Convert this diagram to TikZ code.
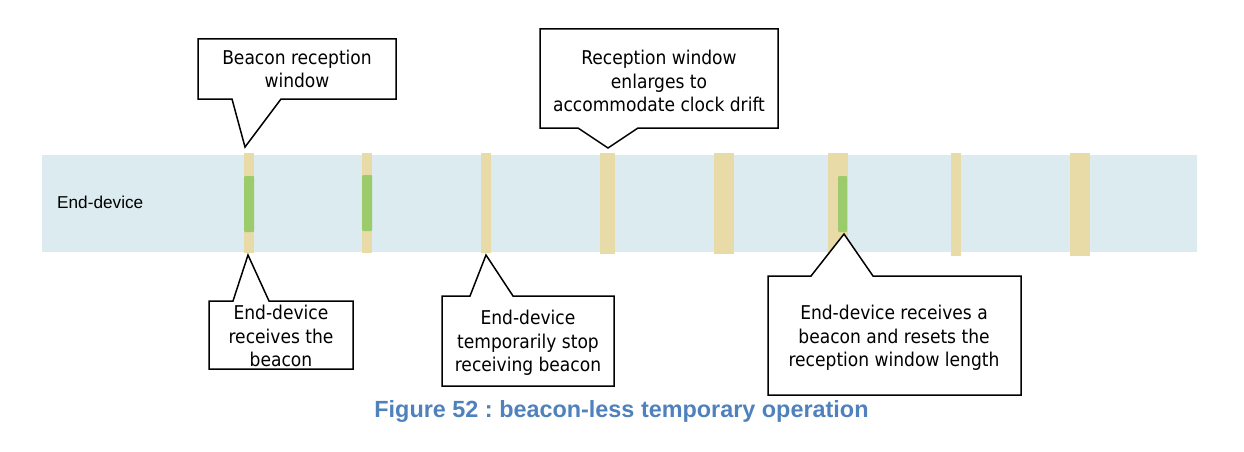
\documentclass[tikz,border=0pt]{standalone}
\usepackage{fontspec}
\setmainfont{DejaVu Sans Condensed}
\newfontfamily\arialfont{Liberation Sans}
\definecolor{bandblue}{HTML}{DCEBEF}
\definecolor{wintan}{HTML}{E8DBA8}
\definecolor{beacongreen}{HTML}{9BCB6A}
\definecolor{captionblue}{HTML}{4F81BD}
\frenchspacing
\tikzset{
  band/.style={fill=bandblue, draw=none},
  win/.style={fill=wintan, draw=none},
  beacon/.style={fill=beacongreen, draw=none, rounded corners=1pt},
  calloutline/.style={draw=black, fill=white, line width=1.5pt, line join=miter},
  callouttext/.style={inner sep=0pt, align=center, font=\fontsize{19}{23.3}\selectfont},
}
\begin{document}
\begin{tikzpicture}[x=1pt,y=-1pt]
\useasboundingbox (0,0) rectangle (1244,452);
% band
\fill[band] (42,155) rectangle (1197,252);
\node[anchor=west, inner sep=0pt, font=\arialfont\fontsize{17.2}{20}\selectfont] (ed) at (57,202) {End-device};
% reception windows
\fill[win] (244,153) rectangle (254,253);
\fill[win] (362,153) rectangle (372,253);
\fill[win] (481,153) rectangle (491,253);
\fill[win] (600,153) rectangle (615,254);
\fill[win] (714,153) rectangle (734,254);
\fill[win] (828,153) rectangle (848,256);
\fill[win] (951,153) rectangle (961,256);
\fill[win] (1070,153) rectangle (1090,256);
% beacons
\fill[beacon] (244,176) rectangle (254,232);
\fill[beacon] (362,175) rectangle (372,231);
\fill[beacon] (838,176) rectangle (847,232);
% callout A
\coordinate (Atip) at (245,147);
\coordinate (AbL) at (232,99);
\coordinate (AbR) at (281,99);
\draw[calloutline] (198,39) -- (396,39) -- (396,99) -- (AbR) -- (Atip) -- (AbL) -- (198,99) -- cycle;
\node[callouttext] (A) at (297,69) {Beacon reception\\window};
% callout B
\coordinate (Btip) at (248,255);
\coordinate (BbL) at (233,301);
\coordinate (BbR) at (269,301);
\draw[calloutline] (209,301) -- (BbL) -- (Btip) -- (BbR) -- (353,301) -- (353,369) -- (209,369) -- cycle;
\node[callouttext] (B) at (281,336) {End-device\\receives the\\beacon};
% callout C
\coordinate (Ctip) at (486,255);
\coordinate (CbL) at (470,296);
\coordinate (CbR) at (513,296);
\draw[calloutline] (442,296) -- (CbL) -- (Ctip) -- (CbR) -- (614,296) -- (614,386) -- (442,386) -- cycle;
\node[callouttext] (C) at (528,343) {End-device\\temporarily stop\\receiving beacon};
% callout D
\coordinate (Dtip) at (608,148);
\coordinate (DbL) at (578,128);
\coordinate (DbR) at (638,128);
\draw[calloutline] (540,29) -- (778,29) -- (778,128) -- (DbR) -- (Dtip) -- (DbL) -- (540,128) -- cycle;
\node[callouttext] (D) at (659,81) {Reception window\\enlarges to\\accommodate clock drift};
% callout E
\coordinate (Etip) at (844,234);
\coordinate (EbL) at (811,276);
\coordinate (EbR) at (873,276);
\draw[calloutline] (768,276) -- (EbL) -- (Etip) -- (EbR) -- (1021,276) -- (1021,395) -- (768,395) -- cycle;
\node[callouttext] (E) at (894,338) {End-device receives a\\beacon and resets the\\reception window length};
% caption
\node[inner sep=0pt, text=captionblue, font=\arialfont\bfseries\fontsize{23.4}{26}\selectfont] (cap) at (621.5,411) {Figure 52 : beacon-less temporary operation};
\end{tikzpicture}
\end{document}
